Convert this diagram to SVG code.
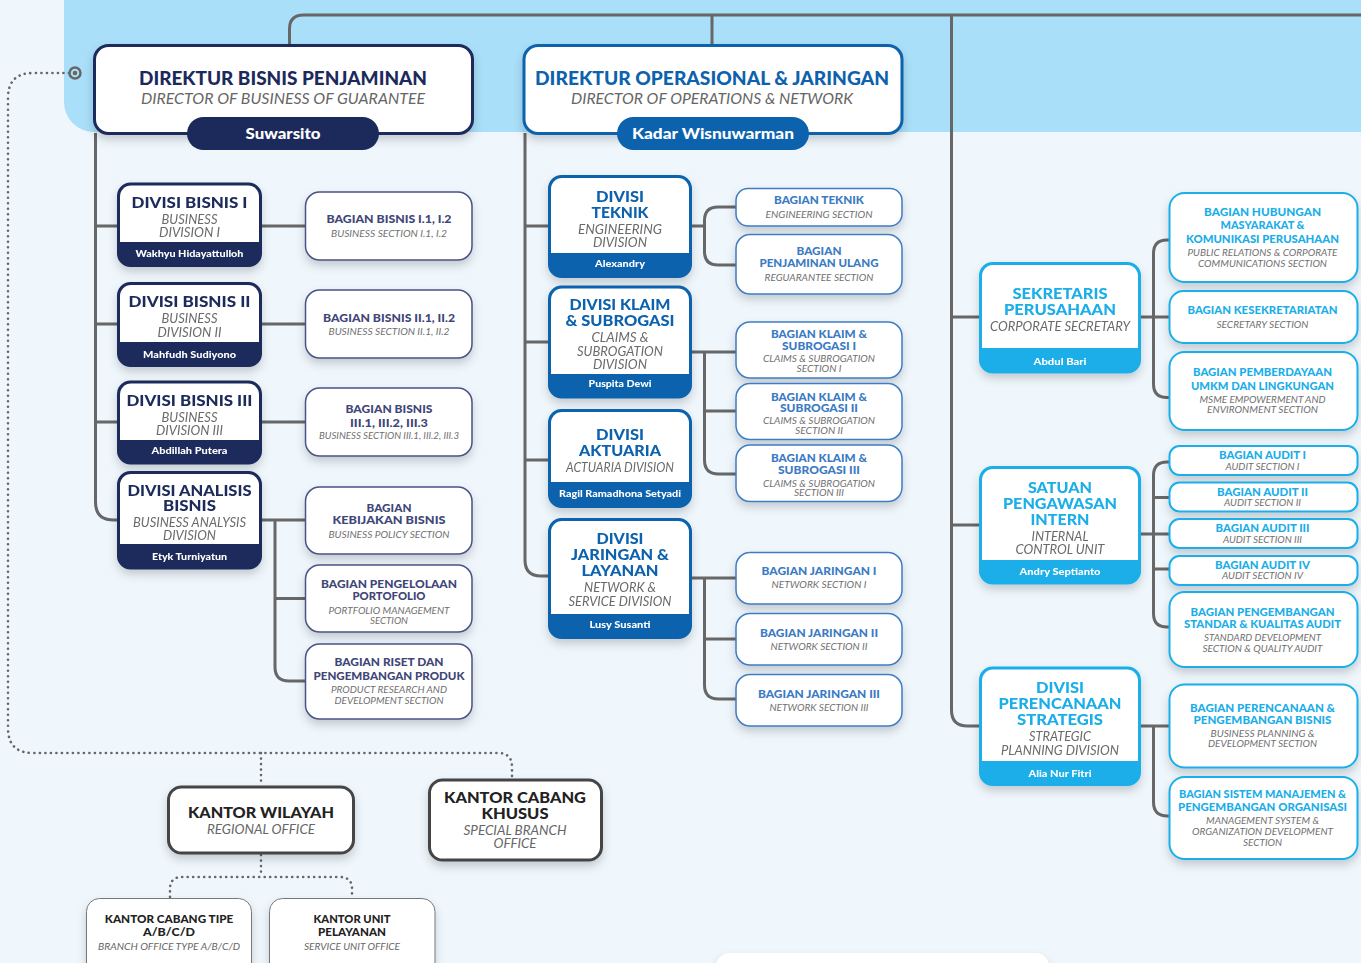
<svg xmlns="http://www.w3.org/2000/svg" width="1361" height="963" viewBox="0 0 1361 963">
<defs>
<style>
text{font-family:Lato,'Noto Sans',sans-serif;text-anchor:middle}
.dt{font-weight:900;font-size:18.5px}
.dsub{font-style:italic;font-size:15px;fill:#666}
.pn{font-weight:900;font-size:15px;fill:#fff}
.vt{font-weight:900;font-size:15.5px}
.vs{font-style:italic;font-size:12.5px;fill:#6a6a6a}
.vn{font-weight:900;font-size:10px;fill:#fff}
.st{font-weight:900;font-size:11.5px}
.ss{font-style:italic;font-size:9.5px;fill:#707070}
.nv{fill:#1c2a5b}.nl{fill:#3f4678}.bl{fill:#0d62ad}.bm{fill:#3b7ac4}.cy{fill:#1aaee9}
.kt{font-weight:900;font-size:15.5px;fill:#222}
.ks{font-style:italic;font-size:12.5px;fill:#666}
.kt2{font-weight:900;font-size:11.5px;fill:#222}
.ks2{font-style:italic;font-size:9.5px;fill:#666}
.ln{fill:none;stroke:#676767;stroke-width:3}
.dot{fill:none;stroke:#676767;stroke-width:2.6;stroke-dasharray:0.1 5.4;stroke-linecap:round}
.secL{fill:#fff;stroke:#4a5285;stroke-width:1.5}
.secM{fill:#fff;stroke:#3f7cc4;stroke-width:1.5}
.secR{fill:#fff;stroke:#1aaee9;stroke-width:2}
.w{fill:#fff}
</style>
<filter id="sh" x="-20%" y="-20%" width="140%" height="170%"><feDropShadow dx="0" dy="5" stdDeviation="5" flood-color="#000" flood-opacity="0.18"/></filter>
</defs>
<rect width="1361" height="963" fill="#eff7fd"/>
<path d="M64,0 H1361 V132 H94 A30,30 0 0 1 64,102 Z" fill="#a9dff9"/>

<g id="connectors">
<path class="ln" d="M289.5,46 V29 Q289.5,15 303.5,15 H1361"/>
<path class="ln" d="M712,15 V46"/>
<path class="ln" d="M951.5,15 V710 Q951.5,726 967.5,726 H980"/>
<path class="ln" d="M95.5,133 V502 Q95.5,520 113.5,520 H118"/>
<path class="ln" d="M95.5,226 H118 M95.5,324 H118 M95.5,422 H118"/>
<path class="ln" d="M261,226 H305 M261,324 H305 M261,422 H305 M261,520 H305 M275,598.5 H305"/>
<path class="ln" d="M275,520 V667 Q275,681 289,681 H305"/>
<path class="ln" d="M525,133 V560 Q525,576 541,576 H549"/>
<path class="ln" d="M525,226 H549 M525,342 H549 M525,460 H549"/>
<path class="ln" d="M691,226 H704.5 M736,207 H718 Q704.5,207 704.5,220.5 V251.5 Q704.5,265 718,265 H736"/>
<path class="ln" d="M691,352 H736 M704.5,411 H736 M704.5,352 V460 Q704.5,474 718.5,474 H736"/>
<path class="ln" d="M691,578 H736 M704.5,639 H736 M704.5,578 V685 Q704.5,699 718.5,699 H736"/>
<path class="ln" d="M951.5,317 H980 M951.5,525 H980"/>
<path class="ln" d="M1140,317 H1169 M1169,240 H1167 Q1153.5,240 1153.5,253.5 V384 Q1153.5,397.5 1167,397.5 H1169"/>
<path class="ln" d="M1140,534 H1169 M1153.5,497.5 H1169 M1153.5,569 H1169 M1169,462 H1167 Q1153.5,462 1153.5,475.5 V613.5 Q1153.5,627 1167,627 H1169"/>
<path class="ln" d="M1140,726 H1169 M1153.5,726 V802 Q1153.5,816 1167.5,816 H1169"/>
<path class="dot" d="M69,73 H33 Q8,73 8,98 V728 Q8,753 33,753 H498 Q512,753 512,767 V779"/>
<path class="dot" d="M261,753 V786"/>
<path class="dot" d="M261,855 V877 M170,897 V889 Q170,877 182,877 H340 Q352,877 352,889 V897"/>
<circle cx="75" cy="73" r="5.5" fill="#a9dff9" stroke="#676767" stroke-width="2.5"/>
<circle cx="75" cy="73" r="2.3" fill="#676767"/>
</g>

<g id="dir-bisnis">
<rect x="94.5" y="45.5" width="378" height="88" rx="14" fill="#fff" stroke="#1c2a5b" stroke-width="3" filter="url(#sh)"/>
<text class="dt nv" x="283" y="85" textLength="288" lengthAdjust="spacingAndGlyphs">DIREKTUR BISNIS PENJAMINAN</text>
<text class="dsub" x="283" y="104" textLength="284" lengthAdjust="spacingAndGlyphs">DIRECTOR OF BUSINESS OF GUARANTEE</text>
<rect x="187" y="117" width="192" height="33" rx="16.5" fill="#1c2a5b"/>
<text class="pn" x="283" y="138.5" textLength="75" lengthAdjust="spacingAndGlyphs">Suwarsito</text>
</g>

<g id="dir-operasional">
<rect x="524" y="45.5" width="378" height="88" rx="14" fill="#fff" stroke="#0d62ad" stroke-width="3" filter="url(#sh)"/>
<text class="dt bl" x="712" y="85" textLength="354" lengthAdjust="spacingAndGlyphs">DIREKTUR OPERASIONAL &amp; JARINGAN</text>
<text class="dsub" x="712" y="104" textLength="282" lengthAdjust="spacingAndGlyphs">DIRECTOR OF OPERATIONS &amp; NETWORK</text>
<rect x="617" y="117" width="192" height="33" rx="16.5" fill="#0d62ad"/>
<text class="pn" x="713" y="138.5" textLength="162" lengthAdjust="spacingAndGlyphs">Kadar Wisnuwarman</text>
</g>

<!-- Left divisions -->
<g id="div-bisnis-1" filter="url(#sh)">
<rect x="118.5" y="184" width="142" height="81.5" rx="12" fill="#1c2a5b" stroke="#1c2a5b" stroke-width="3"/>
<path class="w" d="M120,242 V196.5 A11,11 0 0 1 131,185.5 H248 A11,11 0 0 1 259,196.5 V242 Z"/>
<text class="vt nv" x="189.5" y="208.3" textLength="116" lengthAdjust="spacingAndGlyphs">DIVISI BISNIS I</text>
<text class="vs" x="189.5" y="224" textLength="56" lengthAdjust="spacingAndGlyphs">BUSINESS</text>
<text class="vs" x="189.5" y="237.3" textLength="61" lengthAdjust="spacingAndGlyphs">DIVISION I</text>
<text class="vn" x="189.5" y="256.7" textLength="108" lengthAdjust="spacingAndGlyphs">Wakhyu Hidayattulloh</text>
</g>
<g id="div-bisnis-2" filter="url(#sh)">
<rect x="118.5" y="283.5" width="142" height="82" rx="12" fill="#1c2a5b" stroke="#1c2a5b" stroke-width="3"/>
<path class="w" d="M120,342 V296 A11,11 0 0 1 131,285 H248 A11,11 0 0 1 259,296 V342 Z"/>
<text class="vt nv" x="189.5" y="307.3" textLength="122" lengthAdjust="spacingAndGlyphs">DIVISI BISNIS II</text>
<text class="vs" x="189.5" y="323.3" textLength="56" lengthAdjust="spacingAndGlyphs">BUSINESS</text>
<text class="vs" x="189.5" y="336.7" textLength="64" lengthAdjust="spacingAndGlyphs">DIVISION II</text>
<text class="vn" x="189.5" y="357.7" textLength="93" lengthAdjust="spacingAndGlyphs">Mahfudh Sudiyono</text>
</g>
<g id="div-bisnis-3" filter="url(#sh)">
<rect x="118.5" y="382" width="142" height="81" rx="12" fill="#1c2a5b" stroke="#1c2a5b" stroke-width="3"/>
<path class="w" d="M120,440 V394.5 A11,11 0 0 1 131,383.5 H248 A11,11 0 0 1 259,394.5 V440 Z"/>
<text class="vt nv" x="189.5" y="406" textLength="126" lengthAdjust="spacingAndGlyphs">DIVISI BISNIS III</text>
<text class="vs" x="189.5" y="421.7" textLength="56" lengthAdjust="spacingAndGlyphs">BUSINESS</text>
<text class="vs" x="189.5" y="435" textLength="67" lengthAdjust="spacingAndGlyphs">DIVISION III</text>
<text class="vn" x="189.5" y="453.7" textLength="76" lengthAdjust="spacingAndGlyphs">Abdillah Putera</text>
</g>
<g id="div-analisis" filter="url(#sh)">
<rect x="118.5" y="472.5" width="142" height="95.5" rx="12" fill="#1c2a5b" stroke="#1c2a5b" stroke-width="3"/>
<path class="w" d="M120,544 V485 A11,11 0 0 1 131,474 H248 A11,11 0 0 1 259,485 V544 Z"/>
<text class="vt nv" x="189.5" y="495.7" textLength="124" lengthAdjust="spacingAndGlyphs">DIVISI ANALISIS</text>
<text class="vt nv" x="189.5" y="511" textLength="53" lengthAdjust="spacingAndGlyphs">BISNIS</text>
<text class="vs" x="189.5" y="527.3" textLength="113" lengthAdjust="spacingAndGlyphs">BUSINESS ANALYSIS</text>
<text class="vs" x="189.5" y="540" textLength="53" lengthAdjust="spacingAndGlyphs">DIVISION</text>
<text class="vn" x="189.5" y="560" textLength="75" lengthAdjust="spacingAndGlyphs">Etyk Turniyatun</text>
</g>

<!-- Left sections -->
<g id="sec-bisnis-1">
<rect class="secL" x="305.5" y="192" width="166.5" height="68" rx="14" filter="url(#sh)"/>
<text class="st nl" x="389" y="223.3" textLength="125" lengthAdjust="spacingAndGlyphs">BAGIAN BISNIS I.1, I.2</text>
<text class="ss" x="389" y="237" textLength="116" lengthAdjust="spacingAndGlyphs">BUSINESS SECTION I.1, I.2</text>
</g>
<g id="sec-bisnis-2">
<rect class="secL" x="305.5" y="290" width="166.5" height="68" rx="14" filter="url(#sh)"/>
<text class="st nl" x="389" y="321.7" textLength="132" lengthAdjust="spacingAndGlyphs">BAGIAN BISNIS II.1, II.2</text>
<text class="ss" x="389" y="335" textLength="121" lengthAdjust="spacingAndGlyphs">BUSINESS SECTION II.1, II.2</text>
</g>
<g id="sec-bisnis-3">
<rect class="secL" x="305.5" y="388" width="166.5" height="68" rx="14" filter="url(#sh)"/>
<text class="st nl" x="389" y="413.3" textLength="87" lengthAdjust="spacingAndGlyphs">BAGIAN BISNIS</text>
<text class="st nl" x="389" y="426.7" textLength="78" lengthAdjust="spacingAndGlyphs">III.1, III.2, III.3</text>
<text class="ss" x="389" y="439.3" textLength="140" lengthAdjust="spacingAndGlyphs">BUSINESS SECTION III.1, III.2, III.3</text>
</g>
<g id="sec-kebijakan">
<rect class="secL" x="305.5" y="487" width="166.5" height="67" rx="14" filter="url(#sh)"/>
<text class="st nl" x="389" y="511.7" textLength="45" lengthAdjust="spacingAndGlyphs">BAGIAN</text>
<text class="st nl" x="389" y="524.3" textLength="113" lengthAdjust="spacingAndGlyphs">KEBIJAKAN BISNIS</text>
<text class="ss" x="389" y="537.7" textLength="121" lengthAdjust="spacingAndGlyphs">BUSINESS POLICY SECTION</text>
</g>
<g id="sec-portofolio">
<rect class="secL" x="305.5" y="565" width="166.5" height="67" rx="14" filter="url(#sh)"/>
<text class="st nl" x="389" y="587.7" textLength="136" lengthAdjust="spacingAndGlyphs">BAGIAN PENGELOLAAN</text>
<text class="st nl" x="389" y="600" textLength="73" lengthAdjust="spacingAndGlyphs">PORTOFOLIO</text>
<text class="ss" x="389" y="613.7" textLength="121" lengthAdjust="spacingAndGlyphs">PORTFOLIO MANAGEMENT</text>
<text class="ss" x="389" y="623.7" textLength="38" lengthAdjust="spacingAndGlyphs">SECTION</text>
</g>
<g id="sec-riset">
<rect class="secL" x="305.5" y="644" width="166.5" height="75" rx="14" filter="url(#sh)"/>
<text class="st nl" x="389" y="666" textLength="109" lengthAdjust="spacingAndGlyphs">BAGIAN RISET DAN</text>
<text class="st nl" x="389" y="680" textLength="151" lengthAdjust="spacingAndGlyphs">PENGEMBANGAN PRODUK</text>
<text class="ss" x="389" y="693.3" textLength="116" lengthAdjust="spacingAndGlyphs">PRODUCT RESEARCH AND</text>
<text class="ss" x="389" y="704" textLength="109" lengthAdjust="spacingAndGlyphs">DEVELOPMENT SECTION</text>
</g>

<!-- Middle divisions -->
<g id="div-teknik" filter="url(#sh)">
<rect x="549.5" y="176.5" width="141" height="100" rx="12" fill="#0d62ad" stroke="#0d62ad" stroke-width="3"/>
<path class="w" d="M551,253 V189 A11,11 0 0 1 562,178 H678 A11,11 0 0 1 689,189 V253 Z"/>
<text class="vt bl" x="620" y="202.3" textLength="48" lengthAdjust="spacingAndGlyphs">DIVISI</text>
<text class="vt bl" x="620" y="218.3" textLength="57" lengthAdjust="spacingAndGlyphs">TEKNIK</text>
<text class="vs" x="620" y="234" textLength="84" lengthAdjust="spacingAndGlyphs">ENGINEERING</text>
<text class="vs" x="620" y="246.7" textLength="54" lengthAdjust="spacingAndGlyphs">DIVISION</text>
<text class="vn" x="620" y="266.7" textLength="50" lengthAdjust="spacingAndGlyphs">Alexandry</text>
</g>
<g id="div-klaim" filter="url(#sh)">
<rect x="549.5" y="287" width="141" height="110" rx="12" fill="#0d62ad" stroke="#0d62ad" stroke-width="3"/>
<path class="w" d="M551,374 V299.5 A11,11 0 0 1 562,288.5 H678 A11,11 0 0 1 689,299.5 V374 Z"/>
<text class="vt bl" x="620" y="310" textLength="101" lengthAdjust="spacingAndGlyphs">DIVISI KLAIM</text>
<text class="vt bl" x="620" y="326" textLength="109" lengthAdjust="spacingAndGlyphs">&amp; SUBROGASI</text>
<text class="vs" x="620" y="341.7" textLength="57" lengthAdjust="spacingAndGlyphs">CLAIMS &amp;</text>
<text class="vs" x="620" y="355.7" textLength="86" lengthAdjust="spacingAndGlyphs">SUBROGATION</text>
<text class="vs" x="620" y="369" textLength="54" lengthAdjust="spacingAndGlyphs">DIVISION</text>
<text class="vn" x="620" y="387.3" textLength="63" lengthAdjust="spacingAndGlyphs">Puspita Dewi</text>
</g>
<g id="div-aktuaria" filter="url(#sh)">
<rect x="549.5" y="410.5" width="141" height="96" rx="12" fill="#0d62ad" stroke="#0d62ad" stroke-width="3"/>
<path class="w" d="M551,482 V423 A11,11 0 0 1 562,412 H678 A11,11 0 0 1 689,423 V482 Z"/>
<text class="vt bl" x="620" y="440" textLength="48" lengthAdjust="spacingAndGlyphs">DIVISI</text>
<text class="vt bl" x="620" y="456" textLength="82" lengthAdjust="spacingAndGlyphs">AKTUARIA</text>
<text class="vs" x="620" y="471.7" textLength="108" lengthAdjust="spacingAndGlyphs">ACTUARIA DIVISION</text>
<text class="vn" x="620" y="496.7" textLength="122" lengthAdjust="spacingAndGlyphs">Ragil Ramadhona Setyadi</text>
</g>
<g id="div-jaringan" filter="url(#sh)">
<rect x="549.5" y="519.5" width="141" height="118" rx="12" fill="#0d62ad" stroke="#0d62ad" stroke-width="3"/>
<path class="w" d="M551,614 V532 A11,11 0 0 1 562,521 H678 A11,11 0 0 1 689,532 V614 Z"/>
<text class="vt bl" x="620" y="544" textLength="47" lengthAdjust="spacingAndGlyphs">DIVISI</text>
<text class="vt bl" x="620" y="560" textLength="98" lengthAdjust="spacingAndGlyphs">JARINGAN &amp;</text>
<text class="vt bl" x="620" y="576" textLength="77" lengthAdjust="spacingAndGlyphs">LAYANAN</text>
<text class="vs" x="620" y="591.7" textLength="72" lengthAdjust="spacingAndGlyphs">NETWORK &amp;</text>
<text class="vs" x="620" y="606" textLength="103" lengthAdjust="spacingAndGlyphs">SERVICE DIVISION</text>
<text class="vn" x="620" y="628.3" textLength="61" lengthAdjust="spacingAndGlyphs">Lusy Susanti</text>
</g>

<!-- Middle sections -->
<g id="sec-teknik">
<rect class="secM" x="736" y="188.5" width="166" height="37.5" rx="12" filter="url(#sh)"/>
<text class="st bm" x="819" y="204.3" textLength="90" lengthAdjust="spacingAndGlyphs">BAGIAN TEKNIK</text>
<text class="ss" x="819" y="217.7" textLength="107" lengthAdjust="spacingAndGlyphs">ENGINEERING SECTION</text>
</g>
<g id="sec-penjaminan-ulang">
<rect class="secM" x="736" y="234.5" width="166" height="59.5" rx="14" filter="url(#sh)"/>
<text class="st bm" x="819" y="255" textLength="45" lengthAdjust="spacingAndGlyphs">BAGIAN</text>
<text class="st bm" x="819" y="267.3" textLength="119" lengthAdjust="spacingAndGlyphs">PENJAMINAN ULANG</text>
<text class="ss" x="819" y="281" textLength="109" lengthAdjust="spacingAndGlyphs">REGUARANTEE SECTION</text>
</g>
<g id="sec-klaim-1">
<rect class="secM" x="736" y="322" width="166" height="56" rx="14" filter="url(#sh)"/>
<text class="st bm" x="819" y="338.3" textLength="96" lengthAdjust="spacingAndGlyphs">BAGIAN KLAIM &amp;</text>
<text class="st bm" x="819" y="350" textLength="74" lengthAdjust="spacingAndGlyphs">SUBROGASI I</text>
<text class="ss" x="819" y="362.3" textLength="112" lengthAdjust="spacingAndGlyphs">CLAIMS &amp; SUBROGATION</text>
<text class="ss" x="819" y="371.7" textLength="45" lengthAdjust="spacingAndGlyphs">SECTION I</text>
</g>
<g id="sec-klaim-2">
<rect class="secM" x="736" y="383.5" width="166" height="56" rx="14" filter="url(#sh)"/>
<text class="st bm" x="819" y="400.7" textLength="96" lengthAdjust="spacingAndGlyphs">BAGIAN KLAIM &amp;</text>
<text class="st bm" x="819" y="412.3" textLength="78" lengthAdjust="spacingAndGlyphs">SUBROGASI II</text>
<text class="ss" x="819" y="424.3" textLength="112" lengthAdjust="spacingAndGlyphs">CLAIMS &amp; SUBROGATION</text>
<text class="ss" x="819" y="434" textLength="48" lengthAdjust="spacingAndGlyphs">SECTION II</text>
</g>
<g id="sec-klaim-3">
<rect class="secM" x="736" y="445" width="166" height="56.5" rx="14" filter="url(#sh)"/>
<text class="st bm" x="819" y="462.3" textLength="96" lengthAdjust="spacingAndGlyphs">BAGIAN KLAIM &amp;</text>
<text class="st bm" x="819" y="474" textLength="82" lengthAdjust="spacingAndGlyphs">SUBROGASI III</text>
<text class="ss" x="819" y="486.7" textLength="112" lengthAdjust="spacingAndGlyphs">CLAIMS &amp; SUBROGATION</text>
<text class="ss" x="819" y="496" textLength="50" lengthAdjust="spacingAndGlyphs">SECTION III</text>
</g>
<g id="sec-jaringan-1">
<rect class="secM" x="736" y="552.5" width="166" height="51.5" rx="14" filter="url(#sh)"/>
<text class="st bm" x="819" y="575.3" textLength="115" lengthAdjust="spacingAndGlyphs">BAGIAN JARINGAN I</text>
<text class="ss" x="819" y="587.7" textLength="95" lengthAdjust="spacingAndGlyphs">NETWORK SECTION I</text>
</g>
<g id="sec-jaringan-2">
<rect class="secM" x="736" y="613.5" width="166" height="51.5" rx="14" filter="url(#sh)"/>
<text class="st bm" x="819" y="636.7" textLength="118" lengthAdjust="spacingAndGlyphs">BAGIAN JARINGAN II</text>
<text class="ss" x="819" y="650" textLength="97" lengthAdjust="spacingAndGlyphs">NETWORK SECTION II</text>
</g>
<g id="sec-jaringan-3">
<rect class="secM" x="736" y="674.5" width="166" height="51.5" rx="14" filter="url(#sh)"/>
<text class="st bm" x="819" y="697.7" textLength="122" lengthAdjust="spacingAndGlyphs">BAGIAN JARINGAN III</text>
<text class="ss" x="819" y="710.7" textLength="99" lengthAdjust="spacingAndGlyphs">NETWORK SECTION III</text>
</g>

<!-- Right divisions -->
<g id="div-sekretaris" filter="url(#sh)">
<rect x="980.5" y="263.5" width="159" height="108.5" rx="12" fill="#1aaee9" stroke="#1aaee9" stroke-width="3"/>
<path class="w" d="M982,348 V276 A11,11 0 0 1 993,265 H1127 A11,11 0 0 1 1138,276 V348 Z"/>
<text class="vt cy" x="1060" y="299.3" textLength="95" lengthAdjust="spacingAndGlyphs">SEKRETARIS</text>
<text class="vt cy" x="1060" y="315" textLength="112" lengthAdjust="spacingAndGlyphs">PERUSAHAAN</text>
<text class="vs" x="1060" y="331" textLength="140" lengthAdjust="spacingAndGlyphs">CORPORATE SECRETARY</text>
<text class="vn" x="1060" y="365" textLength="53" lengthAdjust="spacingAndGlyphs">Abdul Bari</text>
</g>
<g id="div-spi" filter="url(#sh)">
<rect x="980.5" y="467.5" width="159" height="115.5" rx="12" fill="#1aaee9" stroke="#1aaee9" stroke-width="3"/>
<path class="w" d="M982,560 V480 A11,11 0 0 1 993,469 H1127 A11,11 0 0 1 1138,480 V560 Z"/>
<text class="vt cy" x="1060" y="492.5" textLength="64" lengthAdjust="spacingAndGlyphs">SATUAN</text>
<text class="vt cy" x="1060" y="508.5" textLength="114" lengthAdjust="spacingAndGlyphs">PENGAWASAN</text>
<text class="vt cy" x="1060" y="524.5" textLength="59" lengthAdjust="spacingAndGlyphs">INTERN</text>
<text class="vs" x="1060" y="540.7" textLength="57" lengthAdjust="spacingAndGlyphs">INTERNAL</text>
<text class="vs" x="1060" y="554" textLength="89" lengthAdjust="spacingAndGlyphs">CONTROL UNIT</text>
<text class="vn" x="1060" y="575" textLength="81" lengthAdjust="spacingAndGlyphs">Andry Septianto</text>
</g>
<g id="div-perencanaan" filter="url(#sh)">
<rect x="980.5" y="668" width="159" height="116.5" rx="12" fill="#1aaee9" stroke="#1aaee9" stroke-width="3"/>
<path class="w" d="M982,761 V680.5 A11,11 0 0 1 993,669.5 H1127 A11,11 0 0 1 1138,680.5 V761 Z"/>
<text class="vt cy" x="1060" y="693.3" textLength="48" lengthAdjust="spacingAndGlyphs">DIVISI</text>
<text class="vt cy" x="1060" y="709.3" textLength="123" lengthAdjust="spacingAndGlyphs">PERENCANAAN</text>
<text class="vt cy" x="1060" y="725" textLength="86" lengthAdjust="spacingAndGlyphs">STRATEGIS</text>
<text class="vs" x="1060" y="741" textLength="62" lengthAdjust="spacingAndGlyphs">STRATEGIC</text>
<text class="vs" x="1060" y="755" textLength="118" lengthAdjust="spacingAndGlyphs">PLANNING DIVISION</text>
<text class="vn" x="1060" y="777.3" textLength="63" lengthAdjust="spacingAndGlyphs">Alia Nur Fitri</text>
</g>

<!-- Right sections -->
<g id="sec-humas">
<rect class="secR" x="1169.5" y="193" width="188" height="89" rx="15" filter="url(#sh)"/>
<text class="st cy" x="1262.5" y="216" textLength="117" lengthAdjust="spacingAndGlyphs">BAGIAN HUBUNGAN</text>
<text class="st cy" x="1262.5" y="229" textLength="84" lengthAdjust="spacingAndGlyphs">MASYARAKAT &amp;</text>
<text class="st cy" x="1262.5" y="242.7" textLength="153" lengthAdjust="spacingAndGlyphs">KOMUNIKASI PERUSAHAAN</text>
<text class="ss" x="1262.5" y="256" textLength="150" lengthAdjust="spacingAndGlyphs">PUBLIC RELATIONS &amp; CORPORATE</text>
<text class="ss" x="1262.5" y="266.7" textLength="129" lengthAdjust="spacingAndGlyphs">COMMUNICATIONS SECTION</text>
</g>
<g id="sec-kesekretariatan">
<rect class="secR" x="1169.5" y="291" width="188" height="52" rx="14" filter="url(#sh)"/>
<text class="st cy" x="1262.5" y="314.3" textLength="150" lengthAdjust="spacingAndGlyphs">BAGIAN KESEKRETARIATAN</text>
<text class="ss" x="1262.5" y="328.3" textLength="92" lengthAdjust="spacingAndGlyphs">SECRETARY SECTION</text>
</g>
<g id="sec-umkm">
<rect class="secR" x="1169.5" y="352" width="188" height="78" rx="15" filter="url(#sh)"/>
<text class="st cy" x="1262.5" y="376" textLength="139" lengthAdjust="spacingAndGlyphs">BAGIAN PEMBERDAYAAN</text>
<text class="st cy" x="1262.5" y="390" textLength="143" lengthAdjust="spacingAndGlyphs">UMKM DAN LINGKUNGAN</text>
<text class="ss" x="1262.5" y="402.7" textLength="126" lengthAdjust="spacingAndGlyphs">MSME EMPOWERMENT AND</text>
<text class="ss" x="1262.5" y="413.3" textLength="111" lengthAdjust="spacingAndGlyphs">ENVIRONMENT SECTION</text>
</g>
<g id="sec-audit-1">
<rect class="secR" x="1169.5" y="446" width="188" height="29" rx="10" filter="url(#sh)"/>
<text class="st cy" x="1262.5" y="459.3" textLength="87" lengthAdjust="spacingAndGlyphs">BAGIAN AUDIT I</text>
<text class="ss" x="1262.5" y="470" textLength="74" lengthAdjust="spacingAndGlyphs">AUDIT SECTION I</text>
</g>
<g id="sec-audit-2">
<rect class="secR" x="1169.5" y="482.5" width="188" height="29" rx="10" filter="url(#sh)"/>
<text class="st cy" x="1262.5" y="496" textLength="91" lengthAdjust="spacingAndGlyphs">BAGIAN AUDIT II</text>
<text class="ss" x="1262.5" y="506" textLength="77" lengthAdjust="spacingAndGlyphs">AUDIT SECTION II</text>
</g>
<g id="sec-audit-3">
<rect class="secR" x="1169.5" y="519" width="188" height="29" rx="10" filter="url(#sh)"/>
<text class="st cy" x="1262.5" y="532.3" textLength="94" lengthAdjust="spacingAndGlyphs">BAGIAN AUDIT III</text>
<text class="ss" x="1262.5" y="542.7" textLength="79" lengthAdjust="spacingAndGlyphs">AUDIT SECTION III</text>
</g>
<g id="sec-audit-4">
<rect class="secR" x="1169.5" y="556" width="188" height="29" rx="10" filter="url(#sh)"/>
<text class="st cy" x="1262.5" y="569" textLength="95" lengthAdjust="spacingAndGlyphs">BAGIAN AUDIT IV</text>
<text class="ss" x="1262.5" y="579.3" textLength="81" lengthAdjust="spacingAndGlyphs">AUDIT SECTION IV</text>
</g>
<g id="sec-standar-audit">
<rect class="secR" x="1169.5" y="592" width="188" height="75" rx="15" filter="url(#sh)"/>
<text class="st cy" x="1262.5" y="615.7" textLength="144" lengthAdjust="spacingAndGlyphs">BAGIAN PENGEMBANGAN</text>
<text class="st cy" x="1262.5" y="628.3" textLength="157" lengthAdjust="spacingAndGlyphs">STANDAR &amp; KUALITAS AUDIT</text>
<text class="ss" x="1262.5" y="641" textLength="117" lengthAdjust="spacingAndGlyphs">STANDARD DEVELOPMENT</text>
<text class="ss" x="1262.5" y="651.7" textLength="120" lengthAdjust="spacingAndGlyphs">SECTION &amp; QUALITY AUDIT</text>
</g>
<g id="sec-perencanaan-bisnis">
<rect class="secR" x="1169.5" y="684.5" width="188" height="83" rx="15" filter="url(#sh)"/>
<text class="st cy" x="1262.5" y="711.7" textLength="145" lengthAdjust="spacingAndGlyphs">BAGIAN PERENCANAAN &amp;</text>
<text class="st cy" x="1262.5" y="724" textLength="138" lengthAdjust="spacingAndGlyphs">PENGEMBANGAN BISNIS</text>
<text class="ss" x="1262.5" y="737.3" textLength="104" lengthAdjust="spacingAndGlyphs">BUSINESS PLANNING &amp;</text>
<text class="ss" x="1262.5" y="747.3" textLength="109" lengthAdjust="spacingAndGlyphs">DEVELOPMENT SECTION</text>
</g>
<g id="sec-sistem-manajemen">
<rect class="secR" x="1169.5" y="777" width="188" height="82" rx="15" filter="url(#sh)"/>
<text class="st cy" x="1262.5" y="798.3" textLength="167" lengthAdjust="spacingAndGlyphs">BAGIAN SISTEM MANAJEMEN &amp;</text>
<text class="st cy" x="1262.5" y="811" textLength="169" lengthAdjust="spacingAndGlyphs">PENGEMBANGAN ORGANISASI</text>
<text class="ss" x="1262.5" y="824" textLength="113" lengthAdjust="spacingAndGlyphs">MANAGEMENT SYSTEM &amp;</text>
<text class="ss" x="1262.5" y="835" textLength="141" lengthAdjust="spacingAndGlyphs">ORGANIZATION DEVELOPMENT</text>
<text class="ss" x="1262.5" y="845.7" textLength="39" lengthAdjust="spacingAndGlyphs">SECTION</text>
</g>

<!-- Bottom offices -->
<g id="kantor-wilayah">
<rect x="168.5" y="787" width="185" height="66" rx="13" fill="#fff" stroke="#454545" stroke-width="3" filter="url(#sh)"/>
<text class="kt" x="261" y="818.3" textLength="146" lengthAdjust="spacingAndGlyphs">KANTOR WILAYAH</text>
<text class="ks" x="261" y="834" textLength="108" lengthAdjust="spacingAndGlyphs">REGIONAL OFFICE</text>
</g>
<g id="kantor-cabang-khusus">
<rect x="429.5" y="780" width="172" height="80" rx="13" fill="#fff" stroke="#454545" stroke-width="3" filter="url(#sh)"/>
<text class="kt" x="515" y="803.3" textLength="142" lengthAdjust="spacingAndGlyphs">KANTOR CABANG</text>
<text class="kt" x="515" y="819.3" textLength="67" lengthAdjust="spacingAndGlyphs">KHUSUS</text>
<text class="ks" x="515" y="835" textLength="103" lengthAdjust="spacingAndGlyphs">SPECIAL BRANCH</text>
<text class="ks" x="515" y="847.7" textLength="43" lengthAdjust="spacingAndGlyphs">OFFICE</text>
</g>
<g id="kantor-cabang-tipe">
<rect x="86.5" y="898.5" width="165" height="80" rx="13" fill="#fff" stroke="#777" stroke-width="1" filter="url(#sh)"/>
<text class="kt2" x="169" y="923.3" textLength="128.5" lengthAdjust="spacingAndGlyphs">KANTOR CABANG TIPE</text>
<text class="kt2" x="169" y="935.7" textLength="52" lengthAdjust="spacingAndGlyphs">A/B/C/D</text>
<text class="ks2" x="169" y="950" textLength="142" lengthAdjust="spacingAndGlyphs">BRANCH OFFICE TYPE A/B/C/D</text>
</g>
<g id="kantor-unit-pelayanan">
<rect x="269.5" y="898.5" width="165.5" height="80" rx="13" fill="#fff" stroke="#777" stroke-width="1" filter="url(#sh)"/>
<text class="kt2" x="352" y="923.3" textLength="77" lengthAdjust="spacingAndGlyphs">KANTOR UNIT</text>
<text class="kt2" x="352" y="935.7" textLength="68" lengthAdjust="spacingAndGlyphs">PELAYANAN</text>
<text class="ks2" x="352" y="950" textLength="96" lengthAdjust="spacingAndGlyphs">SERVICE UNIT OFFICE</text>
</g>
<g id="bottom-panel">
<rect x="716" y="953" width="333" height="40" rx="14" fill="#fff" filter="url(#sh)"/>
</g>
</svg>
